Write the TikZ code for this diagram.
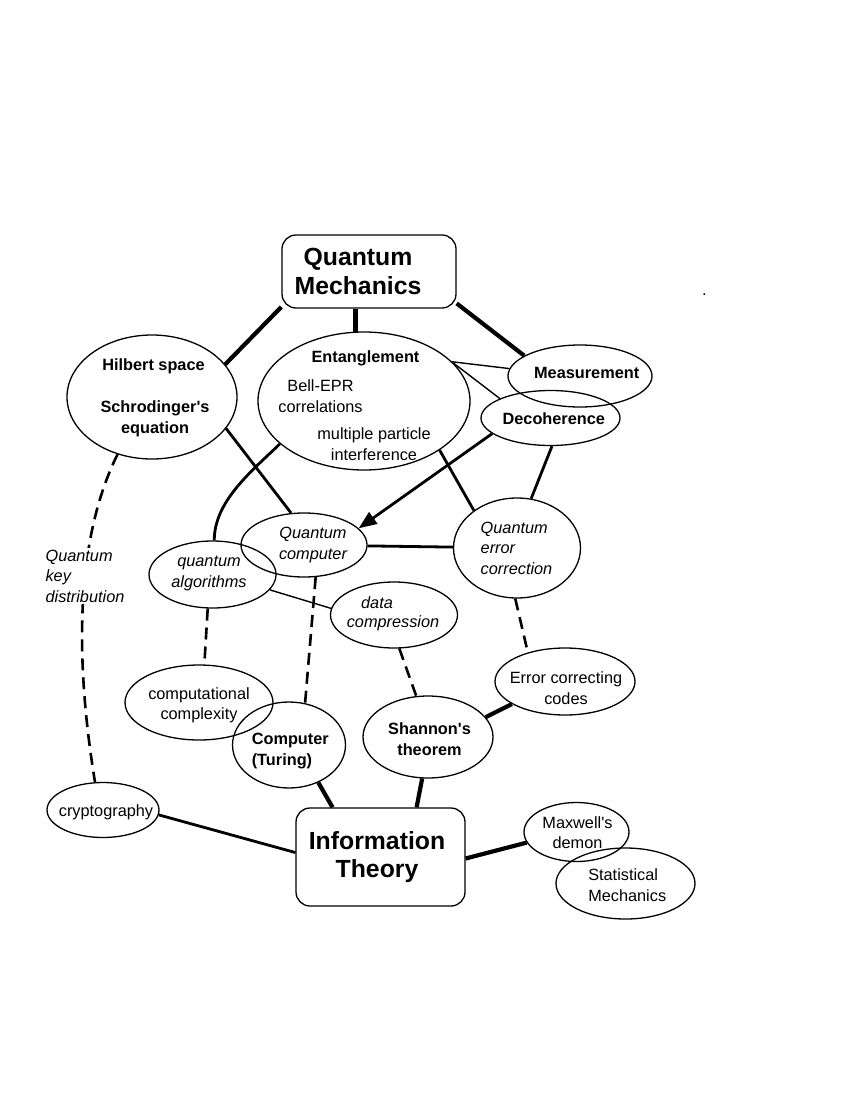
\documentclass[tikz,border=0pt]{standalone}
\usepackage{fontspec}
\setmainfont{Liberation Sans}
\usepackage{tikz}
\usetikzlibrary{
  shapes.geometric,
  arrows.meta
}
\tikzset{
  bubble/.style 2 args = {
    ellipse, draw, line width=1.3pt,
    minimum width=#1, minimum height=#2, inner sep=0pt
  },
  topicbox/.style 2 args = {
    rectangle, rounded corners=14pt, draw, line width=1.3pt,
    minimum width=#1, minimum height=#2, inner sep=0pt
  },
  txt/.style    = {font=\fontsize{16.3}{20.5}\selectfont, align=center, inner sep=0pt},
  bftxt/.style  = {font=\fontsize{16.3}{20.5}\selectfont\bfseries, align=center, inner sep=0pt},
  ittxt/.style  = {font=\fontsize{16.3}{20.5}\selectfont\itshape, align=center, inner sep=0pt},
  bigtxt/.style = {font=\fontsize{24.8}{28.7}\selectfont\bfseries, align=center, inner sep=0pt},
  thickline/.style = {line width=4.2pt},
  midline/.style   = {line width=2.8pt},
  thinline/.style  = {line width=1.4pt},
  dashline/.style  = {line width=2.6pt, dash pattern=on 12pt off 7pt},
}

\begin{document}
\begin{tikzpicture}[x=1pt, y=-1pt]
  \useasboundingbox (0,0) rectangle (850,1100);

  %% main topics
  \node[topicbox={174pt}{73pt},
        label={[bigtxt, xshift=-11pt]center:Quantum\\Mechanics}] (qm) at (369,271.5) {};
  \node[topicbox={169pt}{98pt},
        label={[bigtxt, xshift=-3.5pt]center:Information\\Theory}] (info) at (380.5,857) {};

  %% quantum side
  \node[bubble={170pt}{124pt},
        label={[bftxt, xshift=1.5pt, yshift=31pt]center:Hilbert space},
        label={[bftxt, xshift=3pt, yshift=-22pt]center:Schrodinger\textquotesingle s\\equation}]
        (hilbert) at (152,397) {};
  \node[bubble={212pt}{138pt},
        label={[bftxt, xshift=1.5pt, yshift=43pt]center:Entanglement},
        label={[txt, xshift=-43.5pt, yshift=5pt]center:Bell-EPR\\correlations},
        label={[txt, xshift=10pt, yshift=-43pt]center:multiple particle\\interference}]
        (ent) at (364,401) {};
  \node[bubble={144pt}{62pt},
        label={[bftxt, xshift=6.7pt, yshift=3pt]center:Measurement}] (meas) at (580,376) {};
  \node[bubble={139pt}{55pt},
        label={[bftxt, xshift=3.3pt, yshift=-1pt]center:Decoherence}] (deco) at (550.5,418) {};
  \node[bubble={126pt}{64pt},
        label={[ittxt, xshift=9pt]center:Quantum\\computer}] (qc) at (304,545) {};
  \node[bubble={127pt}{67pt},
        label={[ittxt, xshift=-3.5pt, yshift=1pt]center:quantum\\algorithms}] (qalg) at (212.5,574.5) {};
  \node[bubble={127pt}{100pt},
        label={[ittxt, align=left, xshift=-0.5pt]center:Quantum\\error\\correction}] (qec) at (517,548) {};
  \node[bubble={127pt}{66pt},
        label={[ittxt, xshift=-17pt, yshift=12pt]center:data},
        label={[ittxt, xshift=-1pt, yshift=-8pt]center:compression}] (dcomp) at (394,615) {};

  %% classical side
  \node[bubble={148pt}{75pt},
        label={[txt, yshift=-3pt]center:computational\\complexity}] (cc) at (199,702.5) {};
  \node[bubble={113pt}{86pt},
        label={[bftxt, align=left, xshift=1.3pt, yshift=-6pt]center:Computer\\(Turing)}] (turing) at (289,745) {};
  \node[bubble={130pt}{82pt},
        label={[bftxt, xshift=1.5pt, yshift=-2pt]center:Shannon\textquotesingle s\\theorem}] (shannon) at (428,737) {};
  \node[bubble={140pt}{67pt},
        label={[txt, xshift=1pt, yshift=-6.5pt]center:Error correcting\\codes}] (ecc) at (565,681.5) {};
  \node[bubble={112pt}{55pt},
        label={[txt, xshift=3pt, yshift=-2pt]center:cryptography}] (crypto) at (103,810) {};
  \node[bubble={105pt}{59pt},
        label={[txt, xshift=1pt, yshift=-0.7pt]center:Maxwell\textquotesingle s\\demon}] (maxwell) at (576.5,832) {};
  \node[bubble={139pt}{71pt},
        label={[txt, align=left, xshift=1.7pt, yshift=-1.5pt]center:Statistical\\Mechanics}] (stat) at (625.5,883.5) {};

  \node[txt] (dot) at (704.5,295) {.};

  %% links from Quantum Mechanics
  \draw[thickline] (qm.202) -- (hilbert.24);
  \draw[thickline] (ent.97) -- (ent.97 |- qm.south);
  \draw[thickline] (qm.340) -- (meas.160);
  \draw[thinline] (ent.24) -- (meas.174);
  \draw[thinline] (ent.23) -- (deco.159);

  %% quantum computing links
  \draw[midline] (hilbert.337) -- (qc.112);
  \draw[midline] (ent.327) -- (qec.139);
  \draw[midline] (deco.273) -- (qec.74);
  \draw[midline, -{Triangle[length=18pt, width=14pt]}] (deco.195) -- (qc.17);
  \draw[midline] (ent.207) .. controls (253,470) and (214,501) .. (qalg.87);
  \draw[midline] (qc) -- (qec);
  \draw[thinline] (qalg.345) -- (dcomp.174);

  %% dashed links
  \draw[dashline] (hilbert.239) .. controls (75,540) and (75,660) .. (crypto.106);
  \node[ittxt, align=left, fill=white, inner sep=2pt] (qkd) at (85,576)
    {Quantum\\key\\distribution};
  \draw[dashline] (qalg.262) -- (cc.82);
  \draw[dashline] (qc.290) -- (turing.69);
  \draw[dashline] (dcomp.279) -- (shannon.106);
  \draw[dashline] (qec.268) -- (ecc.142);

  %% links to Information Theory
  \draw[thickline] (ecc.203) -- (shannon.19);
  \draw[thickline] (turing.308) -- (info.134);
  \draw[thickline] (shannon.262) -- (info.54);
  \draw[midline] (crypto.355) -- (info.177);
  \draw[thickline] (info.359) -- (maxwell.192);

\end{tikzpicture}
\end{document}
